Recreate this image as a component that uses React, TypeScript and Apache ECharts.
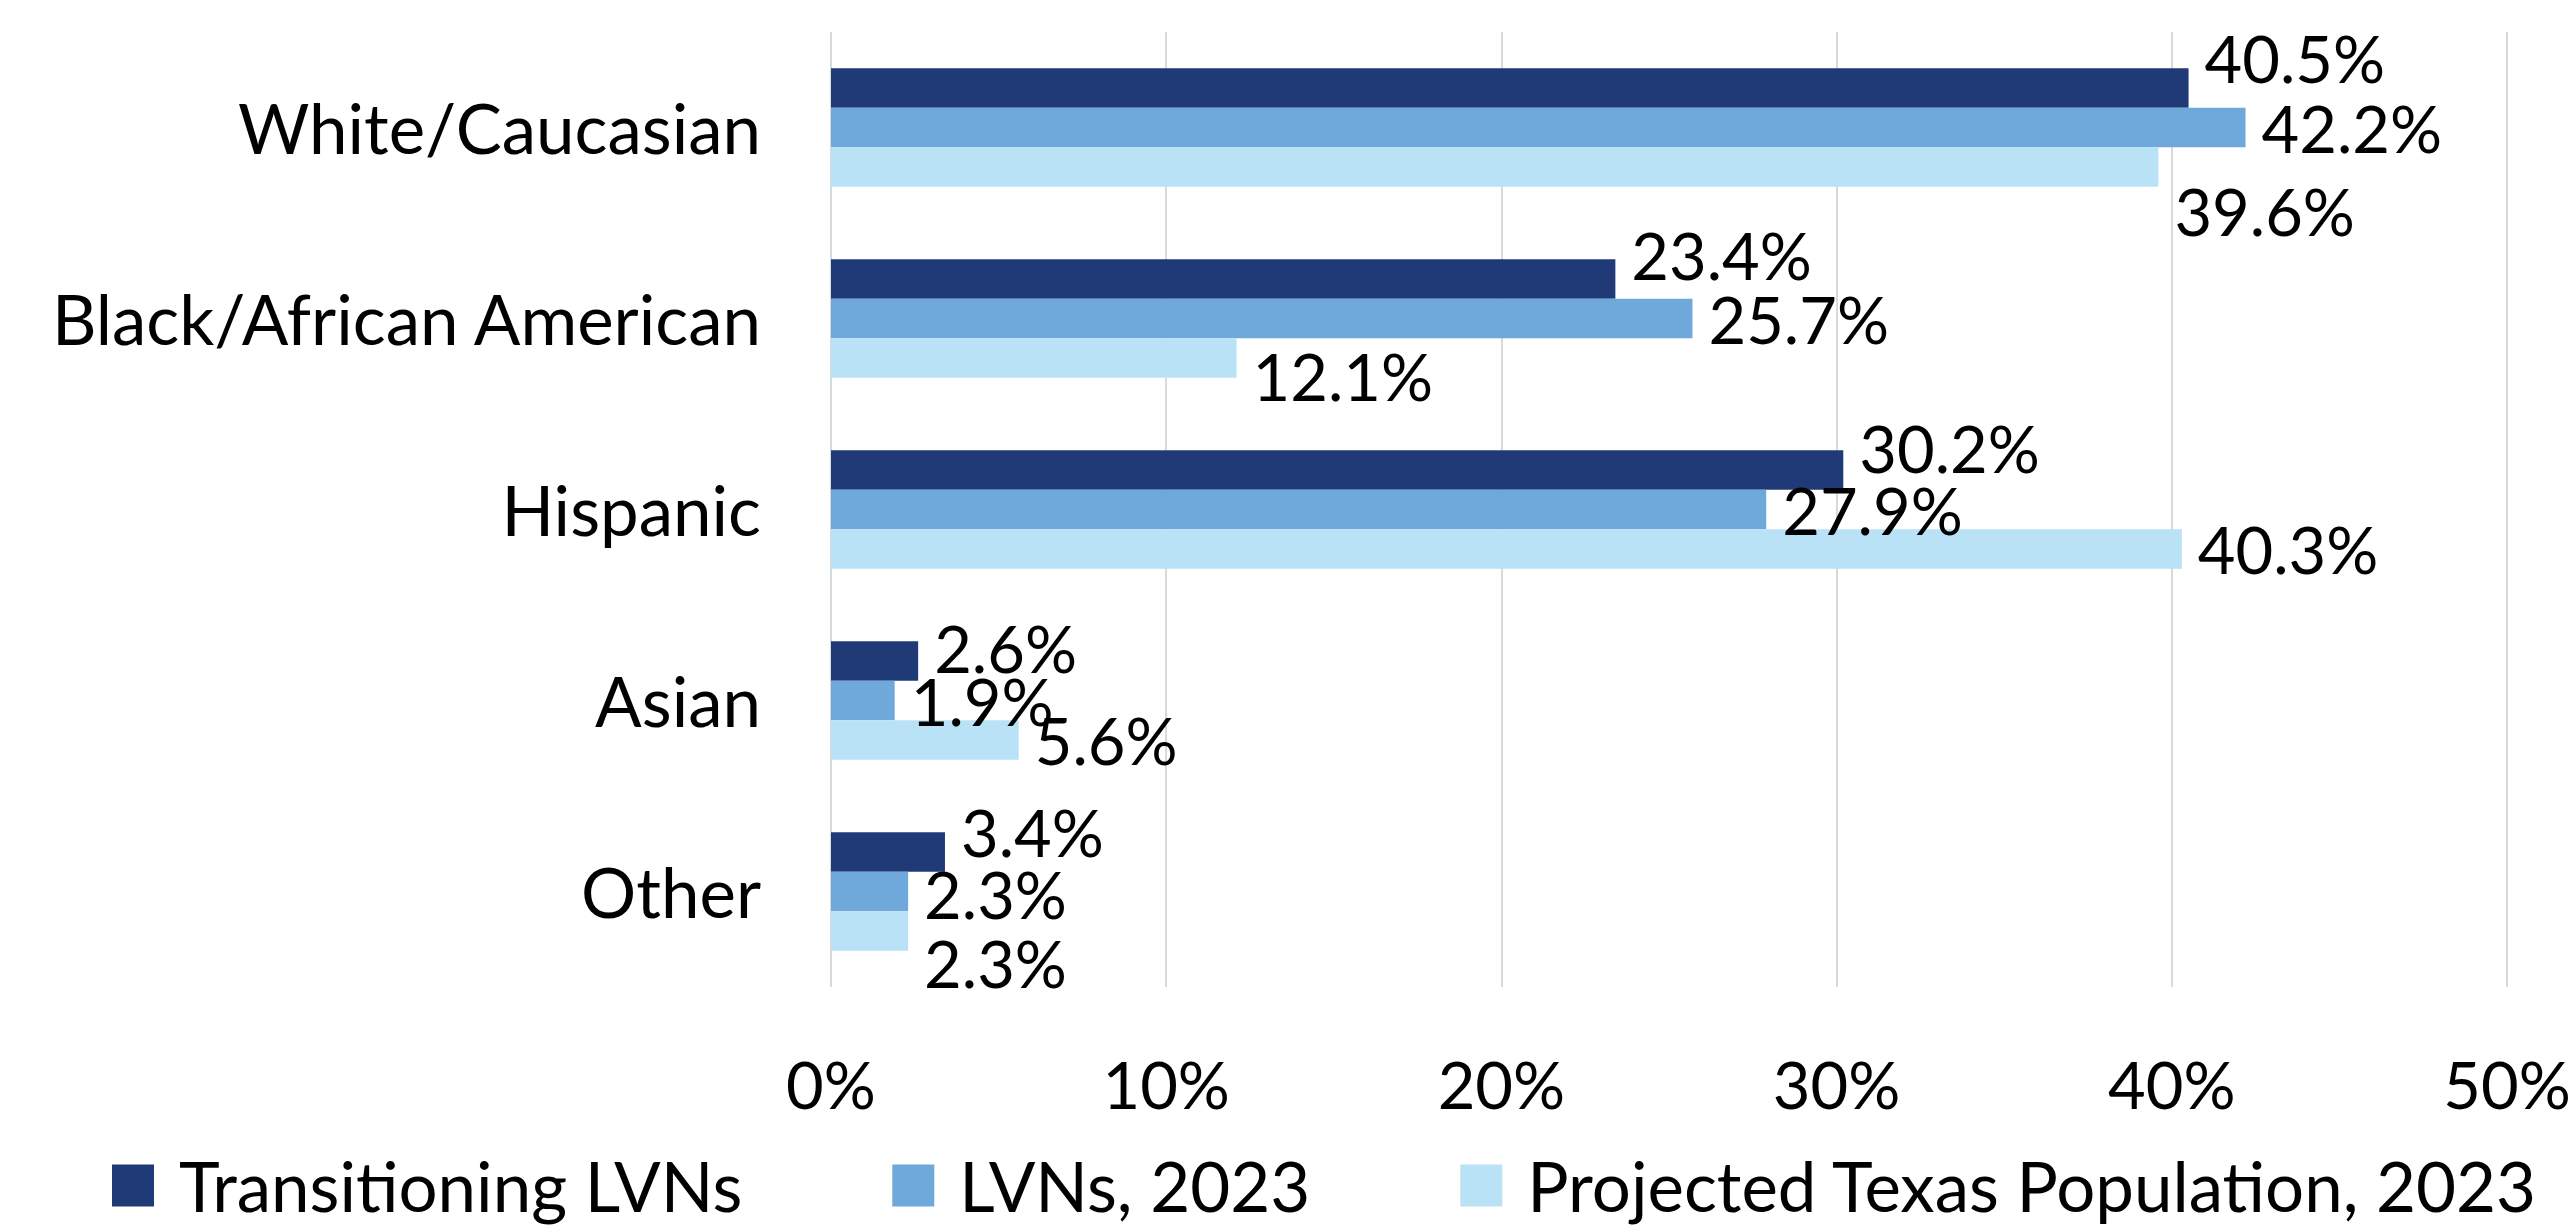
import React, { useEffect, useRef } from "react";
import * as echarts from "echarts";

const categories = ["White/Caucasian", "Black/African American", "Hispanic", "Asian", "Other"];
const seriesNames = ["Transitioning LVNs", "LVNs, 2023", "Projected Texas Population, 2023"];
const transitioningLVNs = [40.5, 23.4, 30.2, 2.6, 3.4];
const lvns2023 = [42.2, 25.7, 27.9, 1.9, 2.3];
const projectedTexas = [39.6, 12.1, 40.3, 5.6, 2.3];
const xTicks = { min: 0, max: 50, interval: 10 };

// label vertical nudges (px) to mimic the original's label placement
const darkShift = [-30, -24, -22, -13, -20];
const mediumShift = [0, 0, 0, 0, 2];
const lightShift = [44, 18, 0, 0, 32];

const colors = ["#1F3A77", "#6FA8DB", "#BAE2F7"];
const FONT = "Lato";
const FS = 69;
const FS_NUM = 65;

export default function App() {
  const ref = useRef<HTMLDivElement>(null);
  useEffect(() => {
    document.body.style.margin = "0";
    if (!ref.current) return;
    const chart = echarts.init(ref.current, null, { renderer: "svg" });
    const mk = (name: string, values: number[], shift: number[], color: string) => ({
      name,
      type: "bar",
      barGap: "0%",
      barCategoryGap: "38%",
      itemStyle: { color },
      label: {
        show: true,
        position: "right",
        distance: 16,
        color: "#000",
        fontFamily: FONT,
        fontSize: FS_NUM,
        formatter: (p: any) => `${Number(p.value).toFixed(1)}%`,
      },
      data: values.map((v, i) => ({ value: v, label: { offset: [0, shift[i]] } })),
    });
    chart.setOption({
      animation: false,
      backgroundColor: "#fff",
      textStyle: { fontFamily: FONT },
      grid: { left: 831, right: 63, top: 32, bottom: 245, containLabel: false, outerBoundsMode: "none" },
      legend: {
        left: 107,
        top: 1146,
        itemWidth: 42,
        itemHeight: 42,
        itemGap: 150,
        icon: "rect",
        textStyle: { fontFamily: FONT, fontSize: FS, color: "#000", padding: [0, 0, 0, 20] },
        data: seriesNames,
      },
      xAxis: {
        type: "value",
        min: xTicks.min,
        max: xTicks.max,
        interval: xTicks.interval,
        axisLine: { show: false },
        axisTick: { show: false },
        splitLine: { show: true, lineStyle: { color: "#D9D9D9", width: 2 } },
        axisLabel: {
          formatter: "{value}%",
          fontFamily: FONT,
          fontSize: FS_NUM,
          color: "#000",
          margin: 64,
        },
      },
      yAxis: {
        type: "category",
        inverse: true,
        data: categories,
        axisLine: { show: false },
        axisTick: { show: false },
        axisLabel: { fontFamily: FONT, fontSize: FS, color: "#000", margin: 70 },
      },
      series: [
        mk(seriesNames[0], transitioningLVNs, darkShift, colors[0]),
        mk(seriesNames[1], lvns2023, mediumShift, colors[1]),
        mk(seriesNames[2], projectedTexas, lightShift, colors[2]),
      ],
    });
    return () => chart.dispose();
  }, []);
  return <div ref={ref} style={{ width: 2570, height: 1232 }} />;
}
